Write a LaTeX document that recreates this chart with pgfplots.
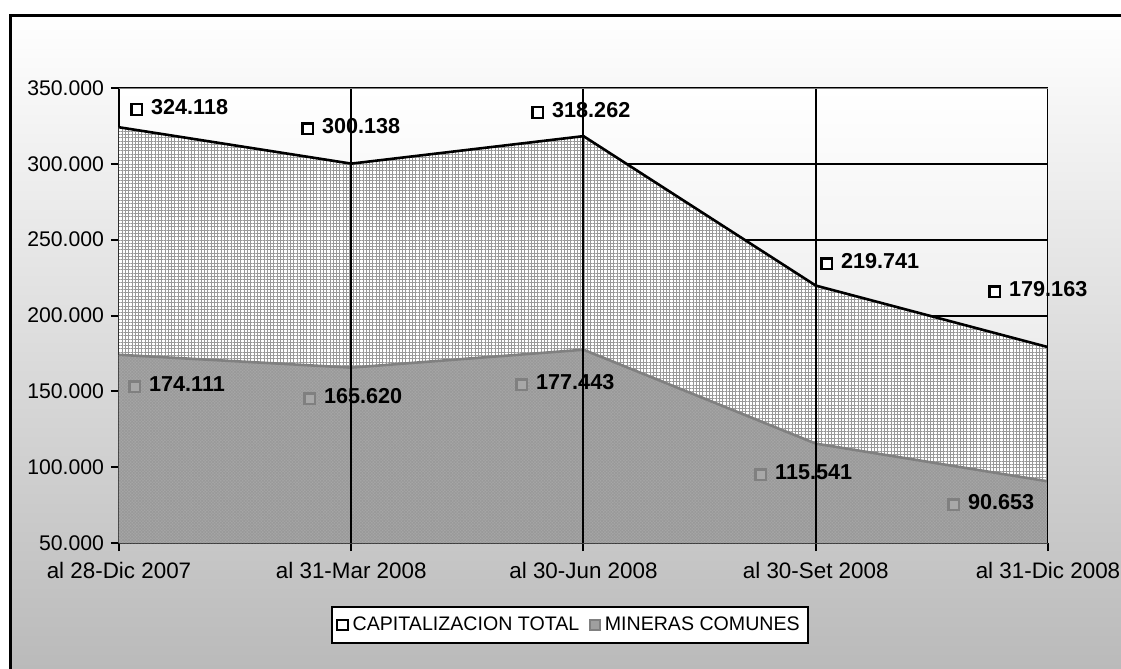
\documentclass[border=0pt]{standalone}
\usepackage{pgfplots}
\pgfplotsset{compat=1.18}
\usepackage{fontspec}
\setmainfont{Liberation Sans}
\usetikzlibrary{patterns.meta}
\definecolor{mgray}{RGB}{168,168,168}
\definecolor{mline}{RGB}{128,128,128}
\definecolor{bgbot}{RGB}{186,186,186}
\newcommand{\sqT}{\raisebox{0.4pt}{\setlength{\fboxsep}{0pt}\setlength{\fboxrule}{1.1pt}\fcolorbox{black}{white}{\rule{0pt}{4.2pt}\hspace{4.2pt}}}}
\newcommand{\sqM}{\raisebox{0.4pt}{\setlength{\fboxsep}{0pt}\setlength{\fboxrule}{1.1pt}\fcolorbox{mline}{mgray}{\rule{0pt}{4.2pt}\hspace{4.2pt}}}}
\newcommand{\lab}[1]{\fontsize{10.8}{12}\selectfont\bfseries #1}
\begin{document}
\begin{tikzpicture}
\useasboundingbox (0,0) rectangle (560.5pt,-334.5pt);
\fill[white] (0,0) rectangle (560.5pt,-334.5pt);
\shade[top color=white, bottom color=bgbot] (5.25pt,-7.5pt) rectangle (560.5pt,-334.5pt);
\draw[black, line width=1.5pt] (5.25pt,-334.5pt) -- (5.25pt,-7.5pt) -- (560.5pt,-7.5pt);
\begin{axis}[
  at={(59.5pt,-271.5pt)}, anchor=south west,
  scale only axis, width=464.5pt, height=227.5pt,
  clip mode=individual,
  xmin=0, xmax=4, ymin=50000, ymax=350000,
  xtick={0,1,2,3,4},
  xticklabels={al 28-Dic 2007,al 31-Mar 2008,al 30-Jun 2008,al 30-Set 2008,al 31-Dic 2008},
  ytick={50000,100000,150000,200000,250000,300000,350000},
  scaled y ticks=false,
  /pgf/number format/.cd, fixed, 1000 sep={.}, assume math mode=true, /pgfplots/.cd,
  axis x line*=bottom, axis y line*=left,
  axis line style={black, line width=1pt, -},
  tick align=outside, major tick length=4pt,
  tick style={black, line width=1pt},
  ymajorgrids, grid style={black, line width=1pt},
  axis background/.style={shade, top color=white, bottom color=gray!25},
  ticklabel style={font=\fontsize{10.6}{12}\selectfont},
  xticklabel style={font=\fontsize{11.2}{13}\selectfont, yshift=-2pt},
  legend style={at={(0.4855,-0.180)}, anchor=center, draw=black, line width=1pt, fill=white,
    font=\fontsize{9.8}{11}\selectfont, inner xsep=2pt, inner ysep=3pt,
    /tikz/every even column/.append style={column sep=3pt}},
  legend columns=2,
]
% area fills
\addplot[draw=none, fill=white, forget plot] coordinates {(0,324118)(1,300138)(2,318262)(3,219741)(4,179163)} \closedcycle;
\addplot[draw=none, pattern={Hatch[angle=0,distance=1.65pt,line width=0.4pt]}, pattern color=gray!80, forget plot] coordinates {(0,324118)(1,300138)(2,318262)(3,219741)(4,179163)} \closedcycle;
\addplot[draw=none, fill=mgray, forget plot] coordinates {(0,174111)(1,165620)(2,177443)(3,115541)(4,90653)} \closedcycle;
\addplot[draw=none, pattern={Hatch[angle=45,distance=1.1pt,line width=0.35pt]}, pattern color=gray!120!black, forget plot] coordinates {(0,174111)(1,165620)(2,177443)(3,115541)(4,90653)} \closedcycle;
% boundary lines
\addplot[black, line width=1.3pt, forget plot] coordinates {(0,324118)(1,300138)(2,318262)(3,219741)(4,179163)};
\addplot[mline, line width=1.3pt, forget plot] coordinates {(0,174111)(1,165620)(2,177443)(3,115541)(4,90653)};
% data labels
\node[anchor=west, inner sep=0pt] at (axis cs:0.0474,337143) {\sqT\hspace{4pt}\lab{324.118}};
\node[anchor=west, inner sep=0pt] at (axis cs:0.7836,324286) {\sqT\hspace{4pt}\lab{300.138}};
\node[anchor=west, inner sep=0pt] at (axis cs:1.774,335033) {\sqT\hspace{4pt}\lab{318.262}};
\node[anchor=west, inner sep=0pt] at (axis cs:3.0183,235275) {\sqT\hspace{4pt}\lab{219.741}};
\node[anchor=west, inner sep=0pt] at (axis cs:3.7417,216813) {\sqT\hspace{4pt}\lab{179.163}};
\node[anchor=west, inner sep=0pt] at (axis cs:0.0388,154176) {\sqM\hspace{4pt}\lab{174.111}};
\node[anchor=west, inner sep=0pt] at (axis cs:0.7922,146264) {\sqM\hspace{4pt}\lab{165.620}};
\node[anchor=west, inner sep=0pt] at (axis cs:1.7051,155495) {\sqM\hspace{4pt}\lab{177.443}};
\node[anchor=west, inner sep=0pt] at (axis cs:2.7341,96154) {\sqM\hspace{4pt}\lab{115.541}};
\node[anchor=west, inner sep=0pt] at (axis cs:3.5651,76374) {\sqM\hspace{4pt}\lab{90.653}};
% vertical category lines on top
\addplot[black, line width=1pt, forget plot] coordinates {(1,50000)(1,350000)};
\addplot[black, line width=1pt, forget plot] coordinates {(2,50000)(2,350000)};
\addplot[black, line width=1pt, forget plot] coordinates {(3,50000)(3,350000)};
\addplot[black, line width=1pt, forget plot] coordinates {(4,50000)(4,350000)};
\addplot[gray, line width=1pt, forget plot] coordinates {(0,350000)(4,350000)};
% legend
\addlegendimage{legend image code/.code={\draw[black, line width=1pt, fill=white] (0pt,-2.6pt) rectangle (5.2pt,2.6pt);}}
\addlegendentry{CAPITALIZACION TOTAL}
\addlegendimage{legend image code/.code={\draw[mline, line width=1pt, fill=gray!75] (0pt,-2.4pt) rectangle (4.8pt,2.4pt);}}
\addlegendentry{MINERAS COMUNES}
\end{axis}
\end{tikzpicture}
\end{document}
